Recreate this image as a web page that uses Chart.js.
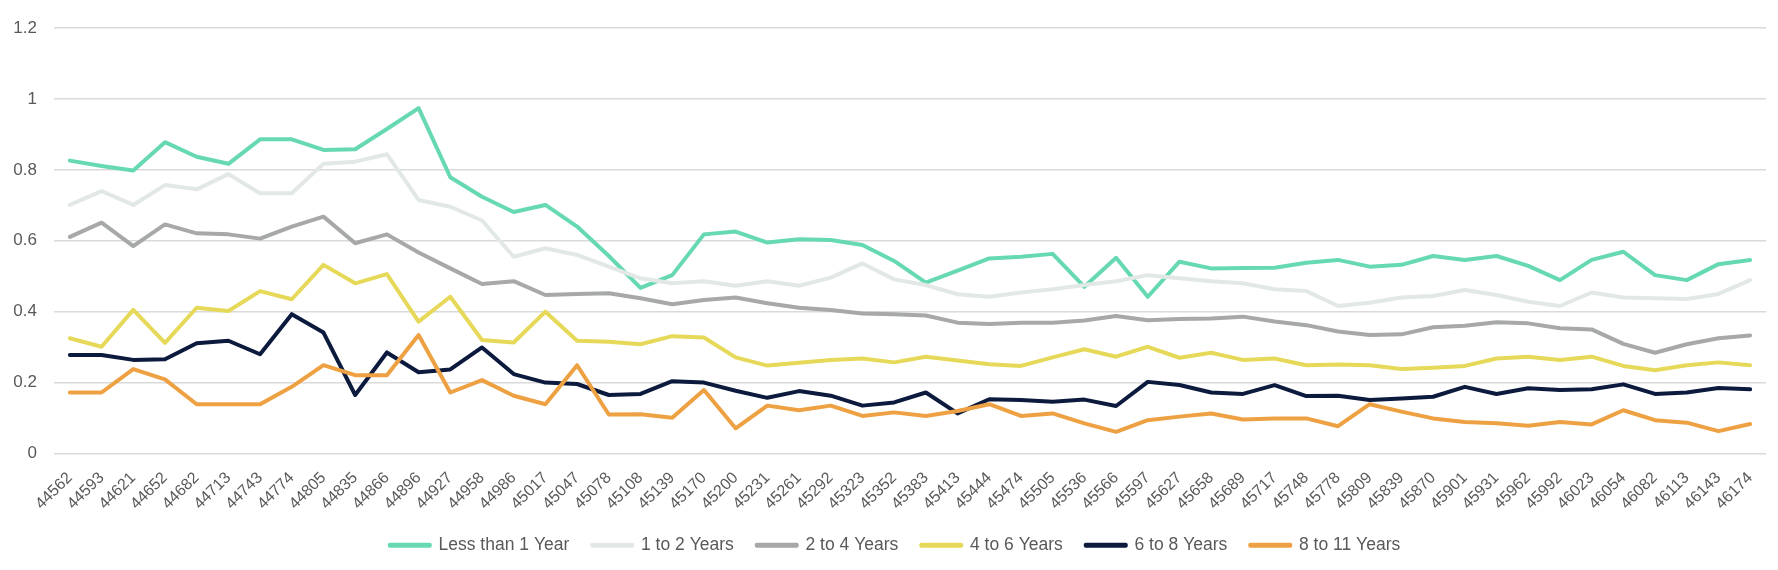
<!DOCTYPE html>
<html>
<head>
<meta charset="utf-8">
<script src="https://cdn.jsdelivr.net/npm/chart.js@4.4.1/dist/chart.umd.min.js"></script>
<style>
  html, body { margin: 0; padding: 0; background: #fff; }
  #wrap { width: 1778px; height: 570px; position: relative; }
</style>
</head>
<body>
<div id="wrap"><canvas id="chart"></canvas></div>
<script>
const labels = [
  '44562', '44593', '44621', '44652', '44682', '44713', '44743', '44774', '44805', '44835',
  '44866', '44896', '44927', '44958', '44986', '45017', '45047', '45078', '45108', '45139',
  '45170', '45200', '45231', '45261', '45292', '45323', '45352', '45383', '45413', '45444',
  '45474', '45505', '45536', '45566', '45597', '45627', '45658', '45689', '45717', '45748',
  '45778', '45809', '45839', '45870', '45901', '45931', '45962', '45992', '46023', '46054',
  '46082', '46113', '46143', '46174',
];

const lessThan1 = [
  0.826, 0.811, 0.798, 0.878, 0.837, 0.817, 0.886, 0.886, 0.856, 0.858,
  0.915, 0.974, 0.779, 0.724, 0.681, 0.701, 0.640, 0.557, 0.467, 0.503,
  0.618, 0.626, 0.595, 0.604, 0.602, 0.588, 0.543, 0.482, 0.516, 0.550,
  0.555, 0.563, 0.470, 0.552, 0.442, 0.541, 0.522, 0.523, 0.524, 0.538,
  0.546, 0.527, 0.532, 0.557, 0.546, 0.557, 0.529, 0.489, 0.546, 0.569,
  0.503, 0.489, 0.534, 0.546,
];

const oneToTwo = [
  0.701, 0.740, 0.701, 0.757, 0.745, 0.788, 0.734, 0.734, 0.817, 0.823,
  0.844, 0.715, 0.696, 0.657, 0.555, 0.579, 0.560, 0.527, 0.494, 0.480,
  0.486, 0.473, 0.486, 0.473, 0.496, 0.536, 0.491, 0.475, 0.449, 0.442,
  0.454, 0.463, 0.475, 0.486, 0.503, 0.494, 0.486, 0.480, 0.463, 0.458,
  0.416, 0.425, 0.440, 0.444, 0.461, 0.447, 0.428, 0.416, 0.454, 0.440,
  0.438, 0.436, 0.450, 0.489,
];

const twoToFour = [
  0.611, 0.651, 0.585, 0.646, 0.621, 0.618, 0.606, 0.640, 0.668, 0.593,
  0.618, 0.567, 0.522, 0.478, 0.486, 0.447, 0.450, 0.452, 0.438, 0.421,
  0.433, 0.440, 0.424, 0.411, 0.405, 0.395, 0.393, 0.389, 0.369, 0.365,
  0.369, 0.369, 0.375, 0.388, 0.376, 0.379, 0.381, 0.386, 0.372, 0.362,
  0.344, 0.334, 0.336, 0.356, 0.360, 0.370, 0.367, 0.353, 0.350, 0.309,
  0.284, 0.308, 0.325, 0.333,
];

const fourToSix = [
  0.325, 0.301, 0.405, 0.312, 0.411, 0.402, 0.458, 0.435, 0.532, 0.480,
  0.506, 0.372, 0.442, 0.320, 0.313, 0.400, 0.318, 0.315, 0.308, 0.331,
  0.327, 0.271, 0.248, 0.256, 0.264, 0.268, 0.257, 0.273, 0.262, 0.252,
  0.247, 0.271, 0.294, 0.273, 0.301, 0.270, 0.284, 0.264, 0.268, 0.249,
  0.251, 0.249, 0.238, 0.242, 0.247, 0.268, 0.273, 0.264, 0.273, 0.247,
  0.235, 0.249, 0.257, 0.249,
];

const sixToEight = [
  0.278, 0.278, 0.264, 0.266, 0.311, 0.318, 0.280, 0.393, 0.341, 0.165,
  0.285, 0.229, 0.237, 0.299, 0.224, 0.200, 0.196, 0.165, 0.168, 0.204,
  0.200, 0.177, 0.157, 0.176, 0.163, 0.135, 0.144, 0.172, 0.113, 0.153,
  0.151, 0.146, 0.152, 0.134, 0.202, 0.193, 0.172, 0.168, 0.193, 0.162,
  0.163, 0.151, 0.155, 0.160, 0.188, 0.168, 0.184, 0.179, 0.181, 0.195,
  0.168, 0.172, 0.185, 0.181,
];

const eightToEleven = [
  0.172, 0.172, 0.238, 0.209, 0.139, 0.139, 0.139, 0.188, 0.249, 0.221,
  0.221, 0.334, 0.172, 0.207, 0.163, 0.139, 0.249, 0.110, 0.111, 0.101,
  0.179, 0.071, 0.135, 0.122, 0.135, 0.106, 0.116, 0.106, 0.120, 0.139,
  0.106, 0.113, 0.085, 0.061, 0.094, 0.104, 0.113, 0.096, 0.099, 0.099,
  0.077, 0.139, 0.118, 0.099, 0.089, 0.085, 0.078, 0.089, 0.082, 0.122,
  0.094, 0.087, 0.063, 0.083,
];

const seriesNames = ['Less than 1 Year', '1 to 2 Years', '2 to 4 Years', '4 to 6 Years', '6 to 8 Years', '8 to 11 Years'];
const seriesValues = [lessThan1, oneToTwo, twoToFour, fourToSix, sixToEight, eightToEleven];
const seriesColors = ['#66d9b4', '#e2e8e5', '#a6a8a9', '#e6d95a', '#0c1a3e', '#eea142'];

Chart.defaults.font.family = '"Liberation Sans", Arial, sans-serif';
Chart.defaults.color = '#595959';

// x labels hang below the fixed axis box, and the legend sits a bit right of centre
const layoutTweaks = {
  id: 'layoutTweaks',
  afterLayout(chart) {
    chart.scales.x.bottom = chart.height;
    chart.legend.left += 12;
    chart.legend.right += 12;
  },
};

const datasets = seriesNames.map((name, i) => ({
  label: name,
  data: seriesValues[i],
  borderColor: seriesColors[i],
  backgroundColor: seriesColors[i],
  borderWidth: 4,
  borderJoinStyle: 'round',
  borderCapStyle: 'round',
  pointRadius: 0,
  tension: 0,
  order: -i, // later series drawn on top
}));

new Chart(document.getElementById('chart'), {
  type: 'line',
  data: { labels, datasets },
  plugins: [layoutTweaks],
  options: {
    responsive: true,
    maintainAspectRatio: false,
    animation: false,
    layout: { padding: { left: 0, right: 12, top: 28, bottom: 6 } },
    plugins: {
      tooltip: { enabled: false },
      legend: {
        position: 'bottom',
        labels: {
          font: { size: 17.5 },
          boxWidth: 40,
          boxHeight: 1,
          padding: 23,
          sort: (a, b) => a.datasetIndex - b.datasetIndex,
        },
      },
    },
    scales: {
      x: {
        offset: true,
        grid: { display: false },
        border: { display: false },
        ticks: { font: { size: 16 }, minRotation: 45, maxRotation: 45, autoSkip: false, padding: 7 },
        afterFit: (scale) => { scale.height = 60; },
      },
      y: {
        min: 0,
        max: 1.2,
        ticks: {
          font: { size: 17 },
          stepSize: 0.2,
          padding: 17,
          callback: (v) => String(Number(v.toFixed(1))),
        },
        grid: { color: '#dadada', lineWidth: 1.6, drawTicks: false },
        border: { display: false },
        afterFit: (scale) => { scale.width = 54; },
      },
    },
  },
});
</script>
</body>
</html>
